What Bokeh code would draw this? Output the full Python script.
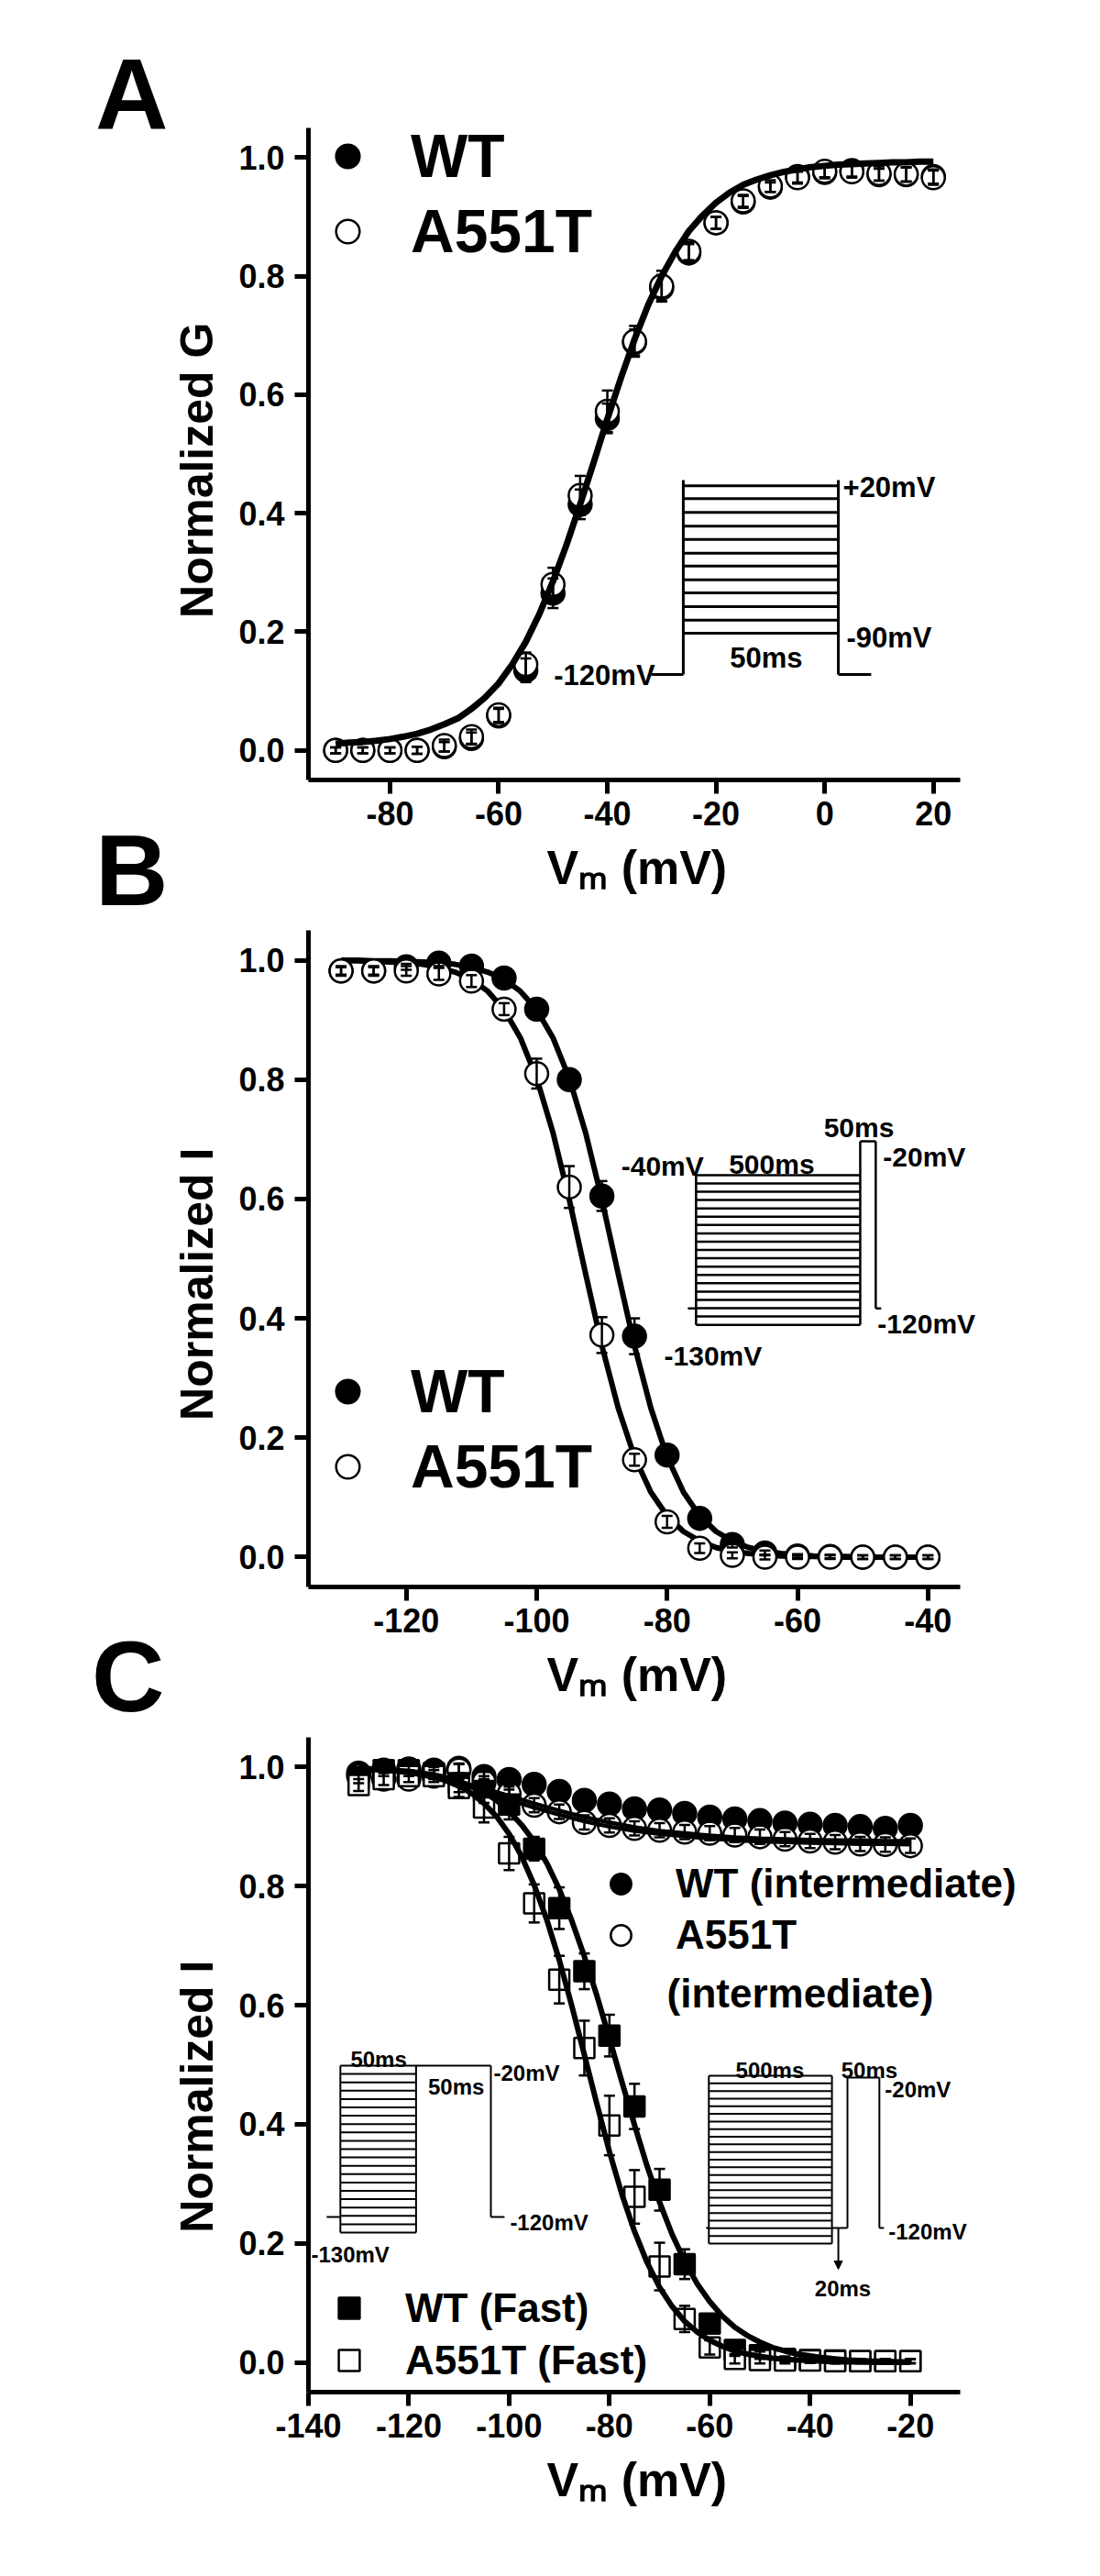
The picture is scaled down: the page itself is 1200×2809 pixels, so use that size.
from bokeh.plotting import figure
from bokeh.layouts import column, row
from bokeh.models import (Range1d, FixedTicker, PrintfTickFormatter, Label, Legend,
                          LegendItem, Arrow, NormalHead, Div, Title)
from bokeh.embed import file_html
from bokeh.resources import INLINE

FONT = "Liberation Sans"

# ---------------- Panel A: activation (Normalized G) ----------------
a_v = [-90, -85, -80, -75, -70, -65, -60, -55, -50, -45, -40, -35, -30, -25, -20,
       -15, -10, -5, 0, 5, 10, 15, 20]
a_wt = [0.000, 0.000, 0.000, 0.000, 0.006, 0.020, 0.058, 0.135, 0.265, 0.415, 0.560, 0.688,
        0.780, 0.839, 0.890, 0.925, 0.950, 0.968, 0.975, 0.978, 0.971, 0.971, 0.968]
a_wt_err = [0.005, 0.005, 0.005, 0.006, 0.008, 0.010, 0.012, 0.020, 0.025, 0.025, 0.025, 0.022,
            0.022, 0.015, 0.010, 0.010, 0.008, 0.010, 0.010, 0.010, 0.010, 0.012, 0.012]
a_mut = [0.000, 0.000, 0.000, 0.000, 0.008, 0.023, 0.060, 0.145, 0.280, 0.430, 0.572, 0.690,
         0.783, 0.842, 0.890, 0.927, 0.952, 0.966, 0.977, 0.976, 0.973, 0.972, 0.966]
a_mut_err = [0.005, 0.005, 0.005, 0.006, 0.010, 0.012, 0.012, 0.020, 0.028, 0.033, 0.035, 0.026,
             0.026, 0.015, 0.010, 0.010, 0.010, 0.010, 0.010, 0.010, 0.012, 0.012, 0.012]
a_fit_v = [-90, -87.5, -85, -82.5, -80, -77.5, -75, -72.5, -70, -67.5, -65, -62.5, -60, -57.5,
           -55, -52.5, -50, -47.5, -45, -42.5, -40, -37.5, -35, -32.5, -30, -27.5, -25, -22.5,
           -20, -17.5, -15, -12.5, -10, -7.5, -5, -2.5, 0, 2.5, 5, 7.5, 10, 12.5, 15, 17.5, 20]
a_fit = [0.011, 0.013, 0.014, 0.016, 0.019, 0.023, 0.028, 0.035, 0.044, 0.054, 0.070, 0.089,
         0.113, 0.145, 0.183, 0.230, 0.285, 0.347, 0.415, 0.486, 0.559, 0.628, 0.693, 0.751,
         0.800, 0.841, 0.876, 0.902, 0.924, 0.941, 0.954, 0.963, 0.970, 0.976, 0.980, 0.984,
         0.986, 0.988, 0.989, 0.990, 0.991, 0.992, 0.992, 0.993, 0.993]

# ---------------- Panel B: steady-state inactivation ----------------
b_v = [-130, -125, -120, -115, -110, -105, -100, -95, -90, -85, -80, -75, -70, -65, -60,
       -55, -50, -45, -40]
b_wt = [0.982, 0.982, 0.989, 0.995, 0.990, 0.970, 0.918, 0.800, 0.605, 0.370, 0.171, 0.065,
        0.021, 0.007, 0.002, 0.001, 0.000, 0.000, 0.000]
b_wt_err = [0.006, 0.006, 0.005, 0.005, 0.006, 0.010, 0.012, 0.010, 0.025, 0.030, 0.015, 0.008,
            0.005, 0.004, 0.003, 0.003, 0.003, 0.003, 0.003]
b_mut = [0.982, 0.982, 0.982, 0.977, 0.965, 0.918, 0.810, 0.620, 0.372, 0.163, 0.059, 0.015,
         0.003, 0.000, 0.000, 0.000, 0.000, 0.000, 0.000]
b_mut_err = [0.008, 0.008, 0.008, 0.010, 0.010, 0.010, 0.025, 0.035, 0.030, 0.010, 0.010, 0.008,
             0.005, 0.004, 0.003, 0.003, 0.003, 0.003, 0.003]
b_fit_v = [-130, -127.5, -125, -122.5, -120, -117.5, -115, -112.5, -110, -107.5, -105, -102.5,
           -100, -97.5, -95, -92.5, -90, -87.5, -85, -82.5, -80, -77.5, -75, -72.5, -70, -67.5,
           -65, -62.5, -60, -57.5, -55, -52.5, -50, -47.5, -45, -42.5, -40]
b_fit_wt = [1.000, 1.000, 0.999, 0.999, 0.998, 0.997, 0.996, 0.993, 0.988, 0.980, 0.968, 0.948,
            0.917, 0.870, 0.802, 0.711, 0.599, 0.475, 0.354, 0.250, 0.168, 0.109, 0.069, 0.043,
            0.027, 0.016, 0.010, 0.006, 0.004, 0.002, 0.001, 0.001, 0.000, 0.000, 0.000, 0.000,
            0.000]
b_fit_mut = [0.999, 0.999, 0.998, 0.997, 0.996, 0.993, 0.988, 0.980, 0.968, 0.948, 0.917, 0.870,
             0.802, 0.711, 0.599, 0.475, 0.354, 0.250, 0.168, 0.109, 0.069, 0.043, 0.027, 0.016,
             0.010, 0.006, 0.004, 0.002, 0.001, 0.001, 0.000, 0.000, 0.000, 0.000, 0.000, 0.000,
             0.000]

# ---------------- Panel C: fast / intermediate inactivation ----------------
c_v = [-130, -125, -120, -115, -110, -105, -100, -95, -90, -85, -80, -75, -70, -65, -60,
       -55, -50, -45, -40, -35, -30, -25, -20]
c_wt_int = [0.990, 0.995, 0.997, 0.995, 0.998, 0.984, 0.979, 0.971, 0.959, 0.944, 0.938, 0.930,
            0.928, 0.922, 0.916, 0.913, 0.910, 0.906, 0.904, 0.902, 0.900, 0.897, 0.902]
c_wt_int_err = [0.008, 0.008, 0.008, 0.008, 0.008, 0.008, 0.008, 0.008, 0.008, 0.008, 0.008,
                0.008, 0.008, 0.008, 0.008, 0.008, 0.008, 0.008, 0.008, 0.008, 0.008, 0.008, 0.008]
c_mut_int = [0.985, 0.980, 0.980, 0.985, 0.995, 0.975, 0.955, 0.936, 0.925, 0.907, 0.902, 0.897,
             0.894, 0.891, 0.889, 0.886, 0.883, 0.879, 0.876, 0.874, 0.871, 0.870, 0.868]
c_mut_int_err = [0.010, 0.010, 0.010, 0.010, 0.010, 0.010, 0.012, 0.012, 0.012, 0.012, 0.012,
                 0.012, 0.012, 0.012, 0.012, 0.012, 0.012, 0.012, 0.012, 0.012, 0.012, 0.012, 0.012]
c_wt_fast = [0.983, 0.995, 0.995, 0.990, 0.973, 0.960, 0.937, 0.863, 0.763, 0.657, 0.549, 0.430,
             0.290, 0.165, 0.065, 0.021, 0.012, 0.006, 0.004, 0.003, 0.002, 0.002, 0.002]
c_wt_fast_err = [0.010, 0.010, 0.010, 0.010, 0.015, 0.020, 0.025, 0.020, 0.035, 0.030, 0.035,
                 0.038, 0.035, 0.025, 0.015, 0.010, 0.006, 0.004, 0.003, 0.003, 0.003, 0.003, 0.003]
c_mut_fast = [0.970, 0.980, 0.985, 0.985, 0.965, 0.932, 0.855, 0.771, 0.643, 0.528, 0.398, 0.278,
              0.161, 0.073, 0.025, 0.006, 0.004, 0.003, 0.003, 0.002, 0.002, 0.002, 0.002]
c_mut_fast_err = [0.010, 0.010, 0.010, 0.010, 0.015, 0.025, 0.028, 0.032, 0.040, 0.046, 0.050,
                  0.045, 0.040, 0.022, 0.012, 0.008, 0.006, 0.005, 0.004, 0.004, 0.004, 0.004, 0.004]
c_fit_v = [-130, -127.5, -125, -122.5, -120, -117.5, -115, -112.5, -110, -107.5, -105, -102.5,
           -100, -97.5, -95, -92.5, -90, -87.5, -85, -82.5, -80, -77.5, -75, -72.5, -70, -67.5,
           -65, -62.5, -60, -57.5, -55, -52.5, -50, -47.5, -45, -42.5, -40, -37.5, -35, -32.5,
           -30, -27.5, -25, -22.5, -20]
c_fit_wt_fast = [0.998, 0.997, 0.996, 0.994, 0.993, 0.990, 0.987, 0.982, 0.976, 0.968, 0.958,
                 0.944, 0.926, 0.903, 0.875, 0.839, 0.795, 0.742, 0.682, 0.616, 0.544, 0.471,
                 0.399, 0.330, 0.269, 0.215, 0.170, 0.132, 0.102, 0.078, 0.059, 0.045, 0.034,
                 0.025, 0.019, 0.014, 0.011, 0.008, 0.006, 0.004, 0.003, 0.002, 0.002, 0.001,
                 0.001]
c_fit_mut_fast = [0.998, 0.997, 0.995, 0.994, 0.991, 0.988, 0.983, 0.977, 0.968, 0.956, 0.939,
                  0.917, 0.888, 0.850, 0.802, 0.744, 0.676, 0.599, 0.517, 0.434, 0.354, 0.282,
                  0.220, 0.168, 0.126, 0.094, 0.069, 0.051, 0.037, 0.027, 0.019, 0.014, 0.010,
                  0.007, 0.005, 0.004, 0.003, 0.002, 0.001, 0.001, 0.001, 0.000, 0.000, 0.000,
                  0.000]
c_fit_int_v = [-130, -125, -120, -115, -110, -105, -100, -95, -90, -85, -80, -75, -70, -65, -60,
               -55, -50, -45, -40, -35, -30, -25, -20]
c_fit_wt_int = [0.998, 0.996, 0.992, 0.985, 0.975, 0.964, 0.952, 0.939, 0.927, 0.916, 0.907,
                0.899, 0.893, 0.889, 0.885, 0.882, 0.880, 0.879, 0.878, 0.877, 0.877, 0.876, 0.876]
c_fit_mut_int = [0.997, 0.994, 0.990, 0.983, 0.972, 0.959, 0.945, 0.932, 0.920, 0.909, 0.900,
                 0.893, 0.888, 0.884, 0.880, 0.877, 0.875, 0.874, 0.873, 0.872, 0.871, 0.871, 0.870]

y_ticks = [0.0, 0.2, 0.4, 0.6, 0.8, 1.0]
a_xticks = [-80, -60, -40, -20, 0, 20]
b_xticks = [-120, -100, -80, -60, -40]
c_xticks = [-140, -120, -100, -80, -60, -40, -20]
panel_letters = ["A", "B", "C"]
x_title = "V\u2098 (mV)"

# ---------------- layout geometry (page pixels; Bokeh's page has no body margin) ----------------
FL, FR = 332, 1047            # axis extent (left / right) on the page
FR_EXT = 1120                 # frame extends further right for inset texts
Y0, Y1 = -0.05, 1.05
GEOM = {"A": (-95, 25, 139, 850), "B": (-135, -35, 1014, 1733), "C": (-140, -10, 1894, 2608)}
TOP_EXT = {"A": 20, "B": 0, "C": 0}   # frame extends above the axis top (room for legend text)
FIG_TOP = {"A": 0, "B": 992, "C": 1870}
FIG_H = {"A": 992, "B": 878, "C": 939}
YLAB_PAD = {"A": 4, "B": 4, "C": 5}   # shifts the rotated y title down along the axis
LET_W = 184
FIG_X = LET_W
FIG_W = 1192 - LET_W
XLAB_LEFT = 592


def to_x(pan, px):
    x0, x1, t, b = GEOM[pan]
    return x0 + (px - FL) * (x1 - x0) / (FR - FL)


def to_y(pan, py):
    x0, x1, t, b = GEOM[pan]
    return Y1 - (py - t) * (Y1 - Y0) / (b - t)


def make_fig(pan, xticks, ylabel):
    x0, x1, t, b = GEOM[pan]
    ftop = t - TOP_EXT[pan]
    top = ftop - FIG_TOP[pan]
    bottom = FIG_H[pan] - top - (b - ftop)
    left = FL - FIG_X
    right = FIG_W - left - (FR_EXT - FL)
    p = figure(width=FIG_W, height=FIG_H[pan],
               x_range=Range1d(x0, to_x(pan, FR_EXT)), y_range=Range1d(Y0, to_y(pan, ftop)),
               output_backend="svg", toolbar_location=None, title=None,
               min_border_left=left, min_border_right=right, min_border_top=top,
               min_border_bottom=bottom, margin=(0, 0, 0, 0))
    p.outline_line_color = None
    p.grid.visible = False
    p.background_fill_color = "white"
    p.border_fill_color = "white"
    p.xaxis.ticker = FixedTicker(ticks=xticks)
    p.yaxis.ticker = FixedTicker(ticks=y_ticks)
    p.xaxis.formatter = PrintfTickFormatter(format="%d")
    p.yaxis.formatter = PrintfTickFormatter(format="%.1f")
    p.xaxis.bounds = (x0, x1)
    p.yaxis.bounds = (Y0, Y1)
    for ax in (p.xaxis[0], p.yaxis[0]):
        ax.axis_line_width = 5
        ax.axis_line_color = "black"
        ax.major_tick_line_width = 5
        ax.major_tick_line_color = "black"
        ax.major_tick_out = 15
        ax.major_tick_in = 0
        ax.minor_tick_line_color = None
        ax.major_label_text_font = FONT
        ax.major_label_text_font_style = "bold"
        ax.major_label_text_font_size = "36px"
        ax.major_label_text_color = "black"
        ax.axis_label_text_font = FONT
        ax.axis_label_text_font_style = "bold"
        ax.axis_label_text_color = "black"
    p.xaxis.major_label_standoff = 8
    p.yaxis.major_label_standoff = 11
    p.yaxis.axis_label = ylabel + "\u00a0" * YLAB_PAD[pan]
    p.yaxis.axis_label_text_font_size = "50px"
    p.yaxis.axis_label_standoff = 14
    p.add_layout(Title(text=x_title, align="left", offset=XLAB_LEFT - FL, vertical_align="top",
                       standoff=28, text_font=FONT, text_font_style="bold",
                       text_font_size="52px", text_color="black"), "below")
    return p


def text(p, pan, s, px, py, size, align="left"):
    p.add_layout(Label(x=to_x(pan, px), y=to_y(pan, py), text=s, text_font=FONT,
                       text_font_style="bold", text_font_size=f"{size}px", text_color="black",
                       text_align=align, text_baseline="alphabetic"))


def errbars(p, xs, ys, es, width=2.5, cap=12):
    lo = [y - e for y, e in zip(ys, es)]
    hi = [y + e for y, e in zip(ys, es)]
    p.segment(x0=xs, y0=lo, x1=xs, y1=hi, line_color="black", line_width=width)
    p.scatter(x=xs + xs, y=lo + hi, marker="dash", size=cap, line_color="black",
              line_width=width)


def lines_px(p, pan, segs, width):
    xs = [[to_x(pan, a), to_x(pan, c)] for a, b, c, d in segs]
    ys = [[to_y(pan, b), to_y(pan, d)] for a, b, c, d in segs]
    p.multi_line(xs=xs, ys=ys, line_color="black", line_width=width)


def legend(p, items, vx, vy, size, gw, gh, standoff, spacing):
    lg = Legend(items=items, location=(vx, vy), orientation="vertical",
                label_text_font=FONT, label_text_font_style="bold",
                label_text_font_size=f"{size}px", label_text_color="black",
                glyph_width=gw, glyph_height=gh, label_height=gh, label_standoff=standoff,
                spacing=spacing, padding=0, margin=0, border_line_color=None,
                background_fill_alpha=0)
    p.add_layout(lg)


# ================= Panel A =================
pa = make_fig("A", a_xticks, "Normalized G")
ra_wt = pa.scatter(a_v, a_wt, marker="circle", size=25, fill_color="black", line_color="black",
                   line_width=2.5)
ra_mut = pa.scatter(a_v, a_mut, marker="circle", size=25, fill_color="white",
                    line_color="black", line_width=2.5)
errbars(pa, a_v, a_wt, a_wt_err)
errbars(pa, a_v, a_mut, a_mut_err)
pa.line(a_fit_v, a_fit, line_color="black", line_width=7, line_join="round")

steps_a = [529.3, 543.3, 558.3, 573.3, 587.7, 602.7, 616.7, 631.7, 646.0, 661.0, 675.7, 690.0]
segs = [(743, 523, 743, 735), (913, 523, 913, 735), (708, 735, 743, 735), (913, 735, 949, 735)]
segs += [(743, yy, 913, yy) for yy in steps_a]
lines_px(pa, "A", segs, 3)
text(pa, "A", "+20mV", 918, 531, 31)
text(pa, "A", "-90mV", 922, 695, 31)
text(pa, "A", "50ms", 834, 717, 31, align="center")
text(pa, "A", "-120mV", 712, 736, 31, align="right")

legend(pa, [LegendItem(label="WT", renderers=[ra_wt]),
            LegendItem(label="A551T", renderers=[ra_mut])],
       11, 850 - 292, 66, 64, 80, 37, 2)

# ================= Panel B =================
pb = make_fig("B", b_xticks, "Normalized I")
pb.line(b_fit_v, b_fit_wt, line_color="black", line_width=6, line_join="round")
pb.line(b_fit_v, b_fit_mut, line_color="black", line_width=6, line_join="round")
rb_wt = pb.scatter(b_v, b_wt, marker="circle", size=25, fill_color="black", line_color="black",
                   line_width=2.5)
rb_mut = pb.scatter(b_v, b_mut, marker="circle", size=25, fill_color="white",
                    line_color="black", line_width=2.5)
errbars(pb, b_v, b_wt, b_wt_err)
errbars(pb, b_v, b_mut, b_mut_err)

steps_b = [1282 + i * (1446 - 1282) / 18 for i in range(19)]
segs = [(757, 1282, 757, 1446), (937, 1245, 937, 1446), (937, 1245, 954, 1245),
        (954, 1245, 954, 1428), (954, 1428, 960, 1428), (748, 1428, 757, 1428)]
segs += [(757, yy, 937, yy) for yy in steps_b]
lines_px(pb, "B", segs, 2.5)
text(pb, "B", "-40mV", 675, 1272, 30)
text(pb, "B", "500ms", 793, 1270, 30)
text(pb, "B", "50ms", 897, 1230, 30)
text(pb, "B", "-20mV", 962, 1262, 30)
text(pb, "B", "-120mV", 956, 1445, 30)
text(pb, "B", "-130mV", 722, 1480, 30)

legend(pb, [LegendItem(label="WT", renderers=[rb_wt]),
            LegendItem(label="A551T", renderers=[rb_mut])],
       11, 1733 - 1642, 66, 64, 80, 37, 2)

# ================= Panel C =================
pc = make_fig("C", c_xticks, "Normalized I")
rc_wt_int = pc.scatter(c_v, c_wt_int, marker="circle", size=25, fill_color="black",
                       line_color="black", line_width=2.5)
rc_mut_int = pc.scatter(c_v, c_mut_int, marker="circle", size=25, fill_color="white",
                        line_color="black", line_width=2.5)
errbars(pc, c_v, c_wt_int, c_wt_int_err)
errbars(pc, c_v, c_mut_int, c_mut_int_err)
rc_wt_fast = pc.scatter(c_v, c_wt_fast, marker="square", size=22, fill_color="black",
                        line_color="black", line_width=2.5)
rc_mut_fast = pc.scatter(c_v, c_mut_fast, marker="square", size=22, fill_color="white",
                         line_color="black", line_width=2.5)
errbars(pc, c_v, c_wt_fast, c_wt_fast_err)
errbars(pc, c_v, c_mut_fast, c_mut_fast_err)
pc.line(c_fit_int_v, c_fit_wt_int, line_color="black", line_width=4.5, line_join="round")
pc.line(c_fit_int_v, c_fit_mut_int, line_color="black", line_width=4.5, line_join="round")
pc.line(c_fit_v, c_fit_wt_fast, line_color="black", line_width=6, line_join="round")
pc.line(c_fit_v, c_fit_mut_fast, line_color="black", line_width=6, line_join="round")

steps_cl = [2252 + i * (2434 - 2252) / 20 for i in range(21)]
segs = [(367, 2252, 367, 2434), (450, 2252, 450, 2434), (450, 2252, 532, 2252),
        (532, 2252, 532, 2417), (532, 2417, 547, 2417), (352, 2417, 367, 2417)]
segs += [(367, yy, 450, yy) for yy in steps_cl]
lines_px(pc, "C", segs, 2)
text(pc, "C", "50ms", 409, 2245, 24, align="center")
text(pc, "C", "50ms", 494, 2275, 24, align="center")
text(pc, "C", "-20mV", 535, 2260, 24)
text(pc, "C", "-120mV", 553, 2423, 24)
text(pc, "C", "-130mV", 335, 2458, 24)

steps_cr = [2263 + i * (2446 - 2263) / 22 for i in range(23)]
segs = [(771, 2263, 771, 2446), (906, 2263, 906, 2446), (768, 2429, 771, 2429),
        (906, 2429, 923, 2429), (923, 2429, 923, 2265), (923, 2265, 958, 2265),
        (958, 2265, 958, 2429), (958, 2429, 963, 2429)]
segs += [(771, yy, 906, yy) for yy in steps_cr]
lines_px(pc, "C", segs, 2)
pc.add_layout(Arrow(x_start=to_x("C", 913), y_start=to_y("C", 2429), x_end=to_x("C", 913),
                    y_end=to_y("C", 2474), line_width=2, line_color="black",
                    end=NormalHead(size=9, fill_color="black", line_color="black")))
text(pc, "C", "500ms", 838, 2257, 24, align="center")
text(pc, "C", "50ms", 947, 2257, 24, align="center")
text(pc, "C", "-20mV", 964, 2278, 24)
text(pc, "C", "-120mV", 968, 2433, 24)
text(pc, "C", "20ms", 918, 2495, 24, align="center")

legend(pc, [LegendItem(label="WT (intermediate)", renderers=[rc_wt_int]),
            LegendItem(label="A551T", renderers=[rc_mut_int])],
       309, 2608 - 2138, 44, 64, 56, 28, 0)
text(pc, "C", "(intermediate)", 725, 2173, 44)

legend(pc, [LegendItem(label="WT (Fast)", renderers=[rc_wt_fast]),
            LegendItem(label="A551T (Fast)", renderers=[rc_mut_fast])],
       16, 2608 - 2602, 44, 57, 57, 33, 0)

# ---------------- panel letters (left column) ----------------
letter_spots = [(104, 140), (104, 987), (100, 1866)]   # (left, baseline) on page
spans = "".join(
    f'<span style="position:absolute;left:{lx}px;top:{by - 93}px;'
    f'font-family:\'Liberation Sans\';font-weight:bold;font-size:110px;'
    f'line-height:110px;color:black;">{s}</span>'
    for s, (lx, by) in zip(panel_letters, letter_spots))
letters = Div(text=f'<div style="position:relative;width:{LET_W}px;height:2809px;">{spans}</div>',
              width=LET_W, height=2809, margin=(0, 0, 0, 0))

layout = row(letters, column(pa, pb, pc, spacing=0), spacing=0)
open("out.html", "w").write(file_html(layout, INLINE))
